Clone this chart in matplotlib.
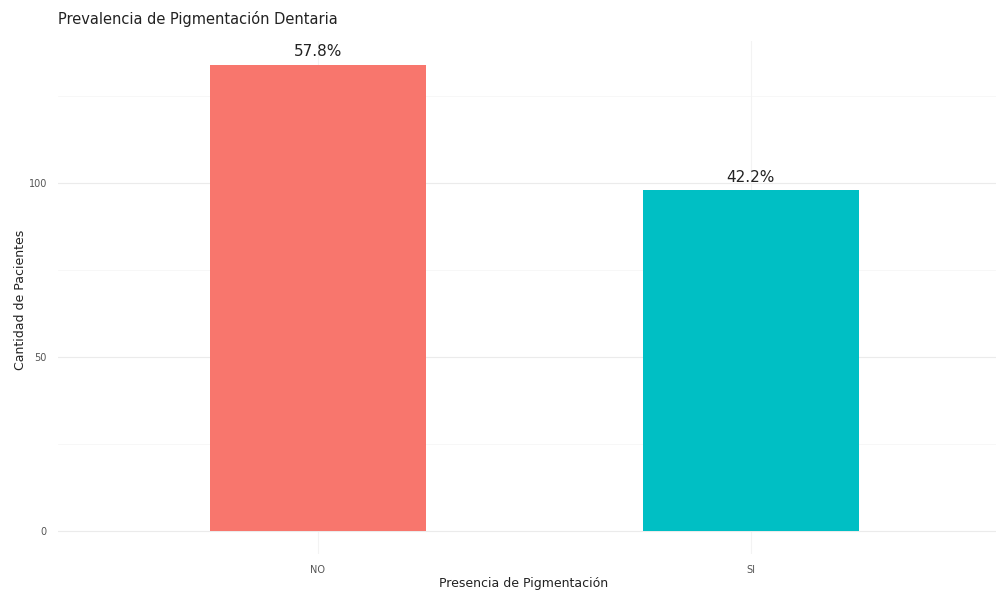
import matplotlib
matplotlib.use("Agg")
import matplotlib.pyplot as plt

# data
categories = ["NO", "SI"]
counts = [134, 98]
labels = ["57.8%", "42.2%"]
colors = ["#F8766D", "#00BFC4"]

W, H = 996, 593
fig = plt.figure(figsize=(W / 100, H / 100), dpi=100)

# panel in pixel terms: left 58, right 996, y=0 at 531, y=100 at 183
px_per_unit_x = 433
px_per_unit_y = 3.48
x0, x1 = 0.4, 0.4 + (996 - 58) / px_per_unit_x
y0, y1 = -6.7, 140.7
left = 58
bottom_px = 531 + (-y0) * px_per_unit_y
top_px = 531 - y1 * px_per_unit_y
ax = fig.add_axes([left / W, 1 - bottom_px / H, (996 - left) / W, (bottom_px - top_px) / H])

xs = [1, 2]
ax.bar(xs, counts, width=0.5, color=colors, zorder=2)
for x, c, lab in zip(xs, counts, labels):
    ax.text(x, c + 1.5, lab, ha="center", va="bottom", fontsize=11, color="#222222")

ax.set_xlim(x0, x1)
ax.set_ylim(y0, y1)
ax.set_xticks(xs)
ax.set_xticklabels(categories)
ax.set_yticks([0, 50, 100])
ax.set_yticks([25, 75, 125], minor=True)

for s in ax.spines.values():
    s.set_visible(False)
ax.tick_params(axis="both", length=0, labelsize=7, colors="#555555", pad=8)
ax.tick_params(which="minor", length=0)
ax.grid(which="major", axis="y", color="#ebebeb", linewidth=0.8, zorder=0)
ax.grid(which="major", axis="x", color="#f3f3f3", linewidth=0.8, zorder=0)
ax.grid(which="minor", axis="y", color="#f4f4f4", linewidth=0.5, zorder=0)
ax.set_axisbelow(True)

fig.text(524 / W, 1 - 583 / H, "Presencia de Pigmentación", fontsize=9,
         color="#222222", ha="center", va="center")
fig.text(20 / W, 1 - 300 / H, "Cantidad de Pacientes", fontsize=9,
         color="#222222", ha="center", va="center", rotation=90)
fig.text(58 / W, 1 - 19 / H, "Prevalencia de Pigmentación Dentaria", fontsize=10.5,
         color="#222222", ha="left", va="center")

fig.savefig("out.png", dpi=100)
